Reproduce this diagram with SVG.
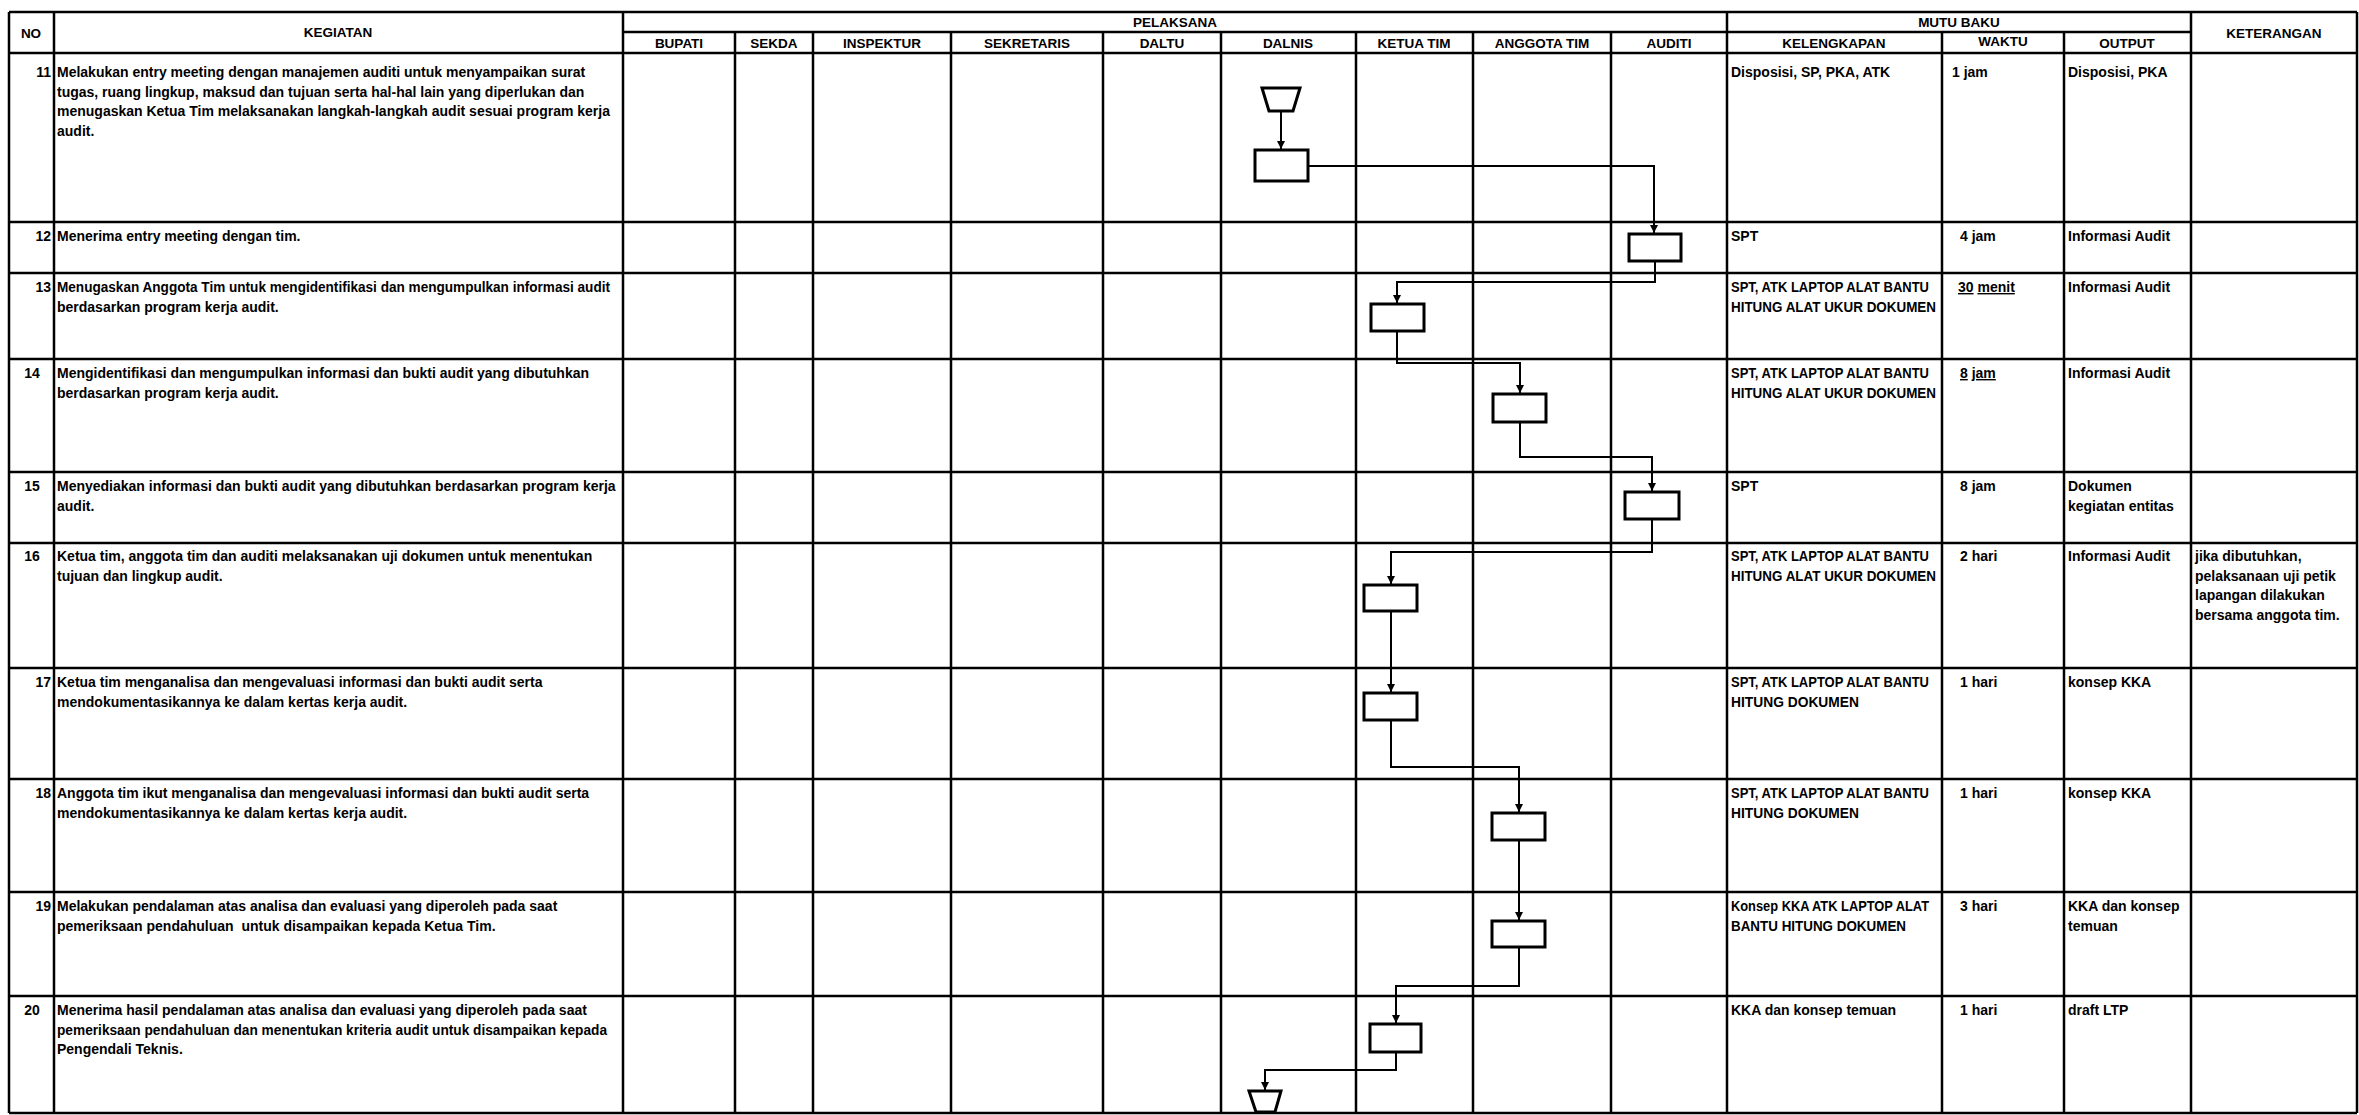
<svg xmlns="http://www.w3.org/2000/svg" width="2359" height="1115" viewBox="0 0 2359 1115">
<style>
.g line{stroke:#000;stroke-width:2.5}
.hl{stroke-width:3.5}
.h{font-family:"Liberation Sans",Arial,sans-serif;font-weight:bold;font-size:13.5px;text-anchor:middle;fill:#000}
.t{font-family:"Liberation Sans",Arial,sans-serif;font-weight:bold;font-size:14px;fill:#000}
.r{text-anchor:end}
.c{text-anchor:middle}
.u{text-decoration:underline}
.box{fill:#fff;stroke:#000;stroke-width:3}
.con{fill:none;stroke:#000;stroke-width:2;marker-end:url(#ah)}
</style>
<defs>
<marker id="ah" markerUnits="userSpaceOnUse" markerWidth="9" markerHeight="10" refX="8" refY="4" orient="auto" viewBox="0 0 9 8">
<path d="M0,0 L8,4 L0,8 z" fill="#000"/>
</marker>
</defs>
<rect width="2359" height="1115" fill="#fff"/>
<g id="table" class="g">
<line x1="9" y1="12" x2="2357" y2="12"/>
<line x1="623" y1="32" x2="2191" y2="32"/>
<line class="hl" x1="9" y1="53" x2="2357" y2="53"/>
<line x1="9" y1="222" x2="2357" y2="222"/>
<line x1="9" y1="273" x2="2357" y2="273"/>
<line x1="9" y1="359" x2="2357" y2="359"/>
<line x1="9" y1="472" x2="2357" y2="472"/>
<line x1="9" y1="543" x2="2357" y2="543"/>
<line x1="9" y1="668" x2="2357" y2="668"/>
<line x1="9" y1="779" x2="2357" y2="779"/>
<line x1="9" y1="892" x2="2357" y2="892"/>
<line x1="9" y1="996" x2="2357" y2="996"/>
<line x1="9" y1="1113" x2="2357" y2="1113"/>
<line x1="9" y1="12" x2="9" y2="1113"/>
<line x1="54" y1="12" x2="54" y2="1113"/>
<line x1="623" y1="12" x2="623" y2="1113"/>
<line x1="1727" y1="12" x2="1727" y2="1113"/>
<line x1="2191" y1="12" x2="2191" y2="1113"/>
<line x1="2357" y1="12" x2="2357" y2="1113"/>
<line x1="735" y1="32" x2="735" y2="1113"/>
<line x1="813" y1="32" x2="813" y2="1113"/>
<line x1="951" y1="32" x2="951" y2="1113"/>
<line x1="1103" y1="32" x2="1103" y2="1113"/>
<line x1="1221" y1="32" x2="1221" y2="1113"/>
<line x1="1356" y1="32" x2="1356" y2="1113"/>
<line x1="1473" y1="32" x2="1473" y2="1113"/>
<line x1="1611" y1="32" x2="1611" y2="1113"/>
<line x1="1942" y1="32" x2="1942" y2="1113"/>
<line x1="2064" y1="32" x2="2064" y2="1113"/>
</g>
<g id="headers">
<text class="h" x="31" y="38">NO</text>
<text class="h" x="338" y="37">KEGIATAN</text>
<text class="h" x="1175" y="27">PELAKSANA</text>
<text class="h" x="1959" y="27">MUTU BAKU</text>
<text class="h" x="2274" y="38">KETERANGAN</text>
<text class="h" x="679" y="48">BUPATI</text>
<text class="h" x="774" y="48">SEKDA</text>
<text class="h" x="882" y="48">INSPEKTUR</text>
<text class="h" x="1027" y="48">SEKRETARIS</text>
<text class="h" x="1162" y="48">DALTU</text>
<text class="h" x="1288" y="48">DALNIS</text>
<text class="h" x="1414" y="48">KETUA TIM</text>
<text class="h" x="1542" y="48">ANGGOTA TIM</text>
<text class="h" x="1669" y="48">AUDITI</text>
<text class="h" x="1834" y="48">KELENGKAPAN</text>
<text class="h" x="2003" y="46">WAKTU</text>
<text class="h" x="2127" y="48">OUTPUT</text>
</g>
<g id="rows">
<text class="t r" x="51" y="77">11</text>
<text class="t" x="57" y="77">Melakukan entry meeting dengan manajemen auditi untuk menyampaikan surat</text>
<text class="t" x="57" y="96.5">tugas, ruang lingkup, maksud dan tujuan serta hal-hal lain yang diperlukan dan</text>
<text class="t" x="57" y="116">menugaskan Ketua Tim melaksanakan langkah-langkah audit sesuai program kerja</text>
<text class="t" x="57" y="135.5">audit.</text>
<text class="t" x="1731" y="77">Disposisi, SP, PKA, ATK</text>
<text class="t" x="1952" y="77">1 jam</text>
<text class="t" x="2068" y="77">Disposisi, PKA</text>

<text class="t r" x="51" y="241">12</text>
<text class="t" x="57" y="241">Menerima entry meeting dengan tim.</text>
<text class="t" x="1731" y="241">SPT</text>
<text class="t" x="1960" y="241">4 jam</text>
<text class="t" x="2068" y="241">Informasi Audit</text>

<text class="t r" x="51" y="292">13</text>
<text class="t" x="57" y="292" textLength="553" lengthAdjust="spacingAndGlyphs">Menugaskan Anggota Tim untuk mengidentifikasi dan mengumpulkan informasi audit</text>
<text class="t" x="57" y="311.5">berdasarkan program kerja audit.</text>
<text class="t" x="1731" y="292" textLength="198" lengthAdjust="spacingAndGlyphs">SPT, ATK LAPTOP ALAT BANTU</text>
<text class="t" x="1731" y="311.5" textLength="205" lengthAdjust="spacingAndGlyphs">HITUNG ALAT UKUR DOKUMEN</text>
<text class="t" x="1958" y="292"><tspan class="u">30</tspan> <tspan class="u">menit</tspan></text>
<text class="t" x="2068" y="292">Informasi Audit</text>

<text class="t c" x="32" y="378">14</text>
<text class="t" x="57" y="378">Mengidentifikasi dan mengumpulkan informasi dan bukti audit yang dibutuhkan</text>
<text class="t" x="57" y="397.5">berdasarkan program kerja audit.</text>
<text class="t" x="1731" y="378" textLength="198" lengthAdjust="spacingAndGlyphs">SPT, ATK LAPTOP ALAT BANTU</text>
<text class="t" x="1731" y="397.5" textLength="205" lengthAdjust="spacingAndGlyphs">HITUNG ALAT UKUR DOKUMEN</text>
<text class="t" x="1960" y="378"><tspan class="u">8</tspan> <tspan class="u">jam</tspan></text>
<text class="t" x="2068" y="378">Informasi Audit</text>

<text class="t c" x="32" y="491">15</text>
<text class="t" x="57" y="491">Menyediakan informasi dan bukti audit yang dibutuhkan berdasarkan program kerja</text>
<text class="t" x="57" y="510.5">audit.</text>
<text class="t" x="1731" y="491">SPT</text>
<text class="t" x="1960" y="491">8 jam</text>
<text class="t" x="2068" y="491">Dokumen</text>
<text class="t" x="2068" y="510.5">kegiatan entitas</text>

<text class="t c" x="32" y="561">16</text>
<text class="t" x="57" y="561">Ketua tim, anggota tim dan auditi melaksanakan uji dokumen untuk menentukan</text>
<text class="t" x="57" y="580.5">tujuan dan lingkup audit.</text>
<text class="t" x="1731" y="561" textLength="198" lengthAdjust="spacingAndGlyphs">SPT, ATK LAPTOP ALAT BANTU</text>
<text class="t" x="1731" y="580.5" textLength="205" lengthAdjust="spacingAndGlyphs">HITUNG ALAT UKUR DOKUMEN</text>
<text class="t" x="1960" y="561">2 hari</text>
<text class="t" x="2068" y="561">Informasi Audit</text>
<text class="t" x="2195" y="561">jika dibutuhkan,</text>
<text class="t" x="2195" y="580.5">pelaksanaan uji petik</text>
<text class="t" x="2195" y="600">lapangan dilakukan</text>
<text class="t" x="2195" y="619.5">bersama anggota tim.</text>

<text class="t r" x="51" y="687">17</text>
<text class="t" x="57" y="687">Ketua tim menganalisa dan mengevaluasi informasi dan bukti audit serta</text>
<text class="t" x="57" y="706.5">mendokumentasikannya ke dalam kertas kerja audit.</text>
<text class="t" x="1731" y="687" textLength="198" lengthAdjust="spacingAndGlyphs">SPT, ATK LAPTOP ALAT BANTU</text>
<text class="t" x="1731" y="706.5" textLength="128" lengthAdjust="spacingAndGlyphs">HITUNG DOKUMEN</text>
<text class="t" x="1960" y="687">1 hari</text>
<text class="t" x="2068" y="687">konsep KKA</text>

<text class="t r" x="51" y="798">18</text>
<text class="t" x="57" y="798">Anggota tim ikut menganalisa dan mengevaluasi informasi dan bukti audit serta</text>
<text class="t" x="57" y="817.5">mendokumentasikannya ke dalam kertas kerja audit.</text>
<text class="t" x="1731" y="798" textLength="198" lengthAdjust="spacingAndGlyphs">SPT, ATK LAPTOP ALAT BANTU</text>
<text class="t" x="1731" y="817.5" textLength="128" lengthAdjust="spacingAndGlyphs">HITUNG DOKUMEN</text>
<text class="t" x="1960" y="798">1 hari</text>
<text class="t" x="2068" y="798">konsep KKA</text>

<text class="t r" x="51" y="911">19</text>
<text class="t" x="57" y="911">Melakukan pendalaman atas analisa dan evaluasi yang diperoleh pada saat</text>
<text class="t" x="57" y="930.5" xml:space="preserve">pemeriksaan pendahuluan  untuk disampaikan kepada Ketua Tim.</text>
<text class="t" x="1731" y="911" textLength="198" lengthAdjust="spacingAndGlyphs">Konsep KKA ATK LAPTOP ALAT</text>
<text class="t" x="1731" y="930.5" textLength="175" lengthAdjust="spacingAndGlyphs">BANTU HITUNG DOKUMEN</text>
<text class="t" x="1960" y="911">3 hari</text>
<text class="t" x="2068" y="911">KKA dan konsep</text>
<text class="t" x="2068" y="930.5">temuan</text>

<text class="t c" x="32" y="1015">20</text>
<text class="t" x="57" y="1015">Menerima hasil pendalaman atas analisa dan evaluasi yang diperoleh pada saat</text>
<text class="t" x="57" y="1034.5" textLength="550" lengthAdjust="spacingAndGlyphs">pemeriksaan pendahuluan dan menentukan kriteria audit untuk disampaikan kepada</text>
<text class="t" x="57" y="1054">Pengendali Teknis.</text>
<text class="t" x="1731" y="1015">KKA dan konsep temuan</text>
<text class="t" x="1960" y="1015">1 hari</text>
<text class="t" x="2068" y="1015">draft LTP</text>
</g>
<g id="connectors">
<path class="con" d="M1281,111 V149"/>
<path class="con" d="M1308,166 H1654 V233"/>
<path class="con" d="M1655,261 V282 H1397 V303"/>
<path class="con" d="M1397,331 V363 H1520 V393"/>
<path class="con" d="M1520,422 V457 H1652 V491"/>
<path class="con" d="M1652,519 V552 H1391 V584"/>
<path class="con" d="M1391,611 V692"/>
<path class="con" d="M1391,720 V767 H1519 V812"/>
<path class="con" d="M1519,840 V920"/>
<path class="con" d="M1519,947 V986 H1396 V1023"/>
<path class="con" d="M1396,1052 V1070 H1265 V1090"/>
</g>
<g id="start"><polygon class="box" points="1262,88 1300,88 1293,111 1269,111"/></g>
<g id="n11"><rect class="box" x="1255" y="150" width="53" height="31"/></g>
<g id="n12"><rect class="box" x="1629" y="234" width="52" height="27"/></g>
<g id="n13"><rect class="box" x="1371" y="304" width="53" height="27"/></g>
<g id="n14"><rect class="box" x="1493" y="394" width="53" height="28"/></g>
<g id="n15"><rect class="box" x="1625" y="492" width="54" height="27"/></g>
<g id="n16"><rect class="box" x="1364" y="585" width="53" height="26"/></g>
<g id="n17"><rect class="box" x="1364" y="693" width="53" height="27"/></g>
<g id="n18"><rect class="box" x="1492" y="813" width="53" height="27"/></g>
<g id="n19"><rect class="box" x="1492" y="921" width="53" height="26"/></g>
<g id="n20"><rect class="box" x="1370" y="1024" width="51" height="28"/></g>
<g id="end"><polygon class="box" points="1249,1091 1281,1091 1275,1112 1256,1112"/></g>
</svg>
